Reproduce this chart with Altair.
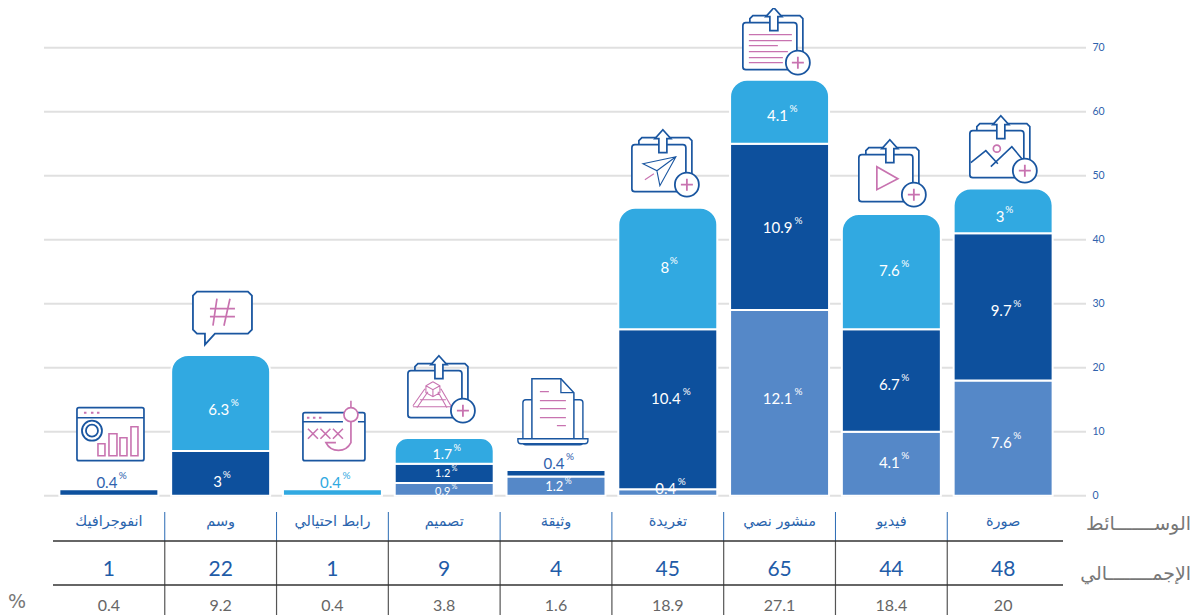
import altair as alt
import pandas as pd

# ---------- data ----------
cats = ["انفوجرافيك", "وسم", "رابط احتيالي", "تصميم", "وثيقة", "تغريدة", "منشور نصي", "فيديو", "صورة"]
seg_low = [0, 0, 0, 2, 3, 1, 29, 10, 18]
seg_mid = [1, 7, 0, 3, 1, 25, 26, 16, 23]
seg_top = [0, 15, 1, 4, 0, 19, 10, 18, 7]
label_low = ["", "", "", "0.9", "1.2", "0.4", "12.1", "4.1", "7.6"]
label_mid = ["0.4", "3", "", "1.2", "0.4", "10.4", "10.9", "6.7", "9.7"]
label_top = ["", "6.3", "0.4", "1.7", "", "8", "4.1", "7.6", "3"]
totals = [1, 22, 1, 9, 4, 45, 65, 44, 48]
shares = ["0.4", "9.2", "0.4", "3.8", "1.6", "18.9", "27.1", "18.4", "20"]
grid_ticks = [0, 10, 20, 30, 40, 50, 60, 70]

LIGHT, DARK, MID = "#31a9e1", "#0d509d", "#5588c8"
INK, PINK = "#1a56a0", "#c873b0"
NUM = "Lato"
AR = "DejaVu Sans"

# page -> plot helpers
PX, PY = 44, 8
def py(v): return v - PY
def px(v): return v - PX

xscale = alt.Scale(domain=cats, range=[9, 1015], paddingInner=0.1145, paddingOuter=0.057)
yscale = alt.Scale(domain=[0, 70], range=[487.7, 39.7])
AX = alt.Axis(orient="right", values=grid_ticks, grid=False, domain=False, ticks=False,
              labelPadding=6, labelFont=NUM, labelFontSize=10.5, labelColor="#2f62ad", title=None)
X = alt.X("name:N", scale=xscale, axis=None, sort=None)

# ---------- segments ----------
rows = []
for i, c in enumerate(cats):
    base = 0
    for seg, val, lab in (("low", seg_low[i], label_low[i]),
                          ("mid", seg_mid[i], label_mid[i]),
                          ("top", seg_top[i], label_top[i])):
        if val == 0:
            continue
        rows.append(dict(name=c, seg=seg, y0=base, y1=base + val, mid=base + val / 2,
                         label=lab, total=totals[i]))
        base += val
seg_df = pd.DataFrame(rows)
seg_df["is_top"] = seg_df["y1"] == seg_df["total"]

col_enc = alt.Color("seg:N", scale=alt.Scale(domain=["low", "mid", "top"], range=[MID, DARK, LIGHT]), legend=None)
Y = alt.Y("y1:Q", scale=yscale, axis=AX, title=None)

def bars(df, **kw):
    return alt.Chart(df).mark_bar(stroke="white", strokeWidth=2, **kw).encode(x=X, y=Y, y2="y0:Q", color=col_enc)

round_big = seg_df[seg_df["is_top"] & seg_df["name"].isin(["وسم", "تغريدة", "منشور نصي", "فيديو", "صورة"])]
round_small = seg_df[seg_df["is_top"] & (seg_df["name"] == "تصميم")]
plain = seg_df.drop(round_big.index).drop(round_small.index)

layers = []

# grid + right axis
grid = alt.Chart(pd.DataFrame({"t": grid_ticks})).mark_rule(color="#e0e0e0", strokeWidth=2).encode(
    y=alt.Y("t:Q", scale=yscale, axis=AX, title=None),
    x=alt.value(0), x2=alt.value(1042))
layers.append(grid)
layers += [bars(plain),
           bars(round_big, cornerRadiusTopLeft=17, cornerRadiusTopRight=17),
           bars(round_small, cornerRadiusTopLeft=13, cornerRadiusTopRight=13)]

# ---------- value labels ----------
lab = seg_df[seg_df["label"] != ""].copy()
NUDGE = {("منشور نصي", "top"): 4, ("منشور نصي", "mid"): 1, ("منشور نصي", "low"): -4,
         ("تغريدة", "mid"): -10, ("تغريدة", "top"): -1, ("تغريدة", "low"): -4,
         ("فيديو", "top"): -1, ("فيديو", "mid"): 4, ("فيديو", "low"): -1,
         ("صورة", "top"): 6, ("صورة", "mid"): 4, ("صورة", "low"): 5,
         ("وسم", "top"): 7, ("وسم", "mid"): 9,
         ("تصميم", "top"): 4, ("تصميم", "mid"): 1, ("تصميم", "low"): 3,
         ("وثيقة", "low"): 1}
def style(r):
    name, seg = r["name"], r["seg"]
    outside = name in ("انفوجرافيك", "رابط احتيالي") or (name == "وثيقة" and seg == "mid")
    color = "white"
    if outside:
        color = LIGHT if name == "رابط احتيالي" else "#2f62ad"
    size = 15
    if name == "تصميم":
        size = 14 if seg == "top" else 11
    if name == "وثيقة" and seg == "low":
        size = 13
    if outside:
        dy = -6 - (r["y1"] - r["mid"]) * 6.4
    else:
        dy = NUDGE[(name, seg)]
    return pd.Series(dict(color=color, size=size, dy=round(dy, 1), n=len(r["label"])))
lab = pd.concat([lab, lab.apply(style, axis=1)], axis=1)
OFF = {1: (-3, 6), 3: (-2, 14), 4: (-2, 19)}
for (color, size, dy, n), g in lab.groupby(["color", "size", "dy", "n"]):
    k = size / 15
    d0, d1 = OFF[n]
    ybase = alt.Y("mid:Q", scale=yscale, axis=AX, title=None)
    layers.append(alt.Chart(g).mark_text(font=NUM, fontSize=size, color=color, baseline="middle",
                                         dx=d0 * k, dy=dy).encode(x=X, y=ybase, text="label:N"))
    layers.append(alt.Chart(g).mark_text(font=NUM, fontSize=max(7, 10 * k), color=color, baseline="middle", text="%",
                                         dx=d1 * k, dy=dy - 7 * k).encode(x=X, y=ybase))

# ---------- table ----------
tbl = pd.DataFrame({"name": cats, "total": totals, "share": shares})
layers.append(alt.Chart(tbl).mark_text(font=AR, fontSize=14.5, color="#2a64ad", baseline="middle").encode(
    x=X, y=alt.value(py(522)), text="name:N"))
layers.append(alt.Chart(tbl).mark_text(font=NUM, fontSize=21, color="#1f5ca8", baseline="middle").encode(
    x=X, y=alt.value(py(570)), text="total:N"))
layers.append(alt.Chart(tbl).mark_text(font=NUM, fontSize=16, color="#666666", baseline="middle").encode(
    x=X, y=alt.value(py(606)), text="share:N"))

sep = tbl.iloc[:-1]
layers.append(alt.Chart(sep).mark_rule(color="#2a6ab3", strokeWidth=1, xOffset=55.9).encode(
    x=X, y=alt.value(py(512)), y2=alt.value(py(541))))
layers.append(alt.Chart(sep).mark_rule(color="#555555", strokeWidth=1.2, xOffset=55.9).encode(
    x=X, y=alt.value(py(541)), y2=alt.value(py(615))))
for yy in (541, 585):
    layers.append(alt.Chart(pd.DataFrame({"r": [yy]})).mark_rule(color="#333333", strokeWidth=1.3).encode(
        x=alt.value(px(53)), x2=alt.value(px(1063)), y=alt.value(py(yy))))

def side_text(t, xv, yv, size, align):
    return alt.Chart(pd.DataFrame({"t": [t]})).mark_text(font=AR, fontSize=size, color="#777777", align=align, baseline="middle").encode(
        x=alt.value(px(xv)), y=alt.value(py(yv)), text="t:N")
layers += [side_text("الوســـــــائط", 1191, 524, 19, "right"),
           side_text("الإجمــــــــالي", 1191, 574, 19, "right"),
           side_text("%", 17, 602, 19, "center")]

# ---------- icons (outline paths placed relative to each bar's top) ----------
def f(v): return f"{v:.1f}"
class Pen:
    def __init__(self, ox, oy): self.ox, self.oy = ox, oy
    def pt(self, x, y): return f"{f(x - self.ox)} {f(y - self.oy)}"
    def poly(self, pts, close=False):
        s = "M" + " L".join(self.pt(*p) for p in pts)
        return s + (" Z" if close else "")
    def lines(self, segs): return " ".join(self.poly(s) for s in segs)
    def circ(self, cx, cy, r):
        return f"M{self.pt(cx - r, cy)} A{r} {r} 0 1 1 {self.pt(cx + r, cy)} A{r} {r} 0 1 1 {self.pt(cx - r, cy)} Z"
    def rrect(self, x, y, w, h, r=3):
        if r == 0:
            return self.poly([(x, y), (x + w, y), (x + w, y + h), (x, y + h)], True)
        return (f"M{self.pt(x + r, y)} L{self.pt(x + w - r, y)} A{r} {r} 0 0 1 {self.pt(x + w, y + r)} "
                f"L{self.pt(x + w, y + h - r)} A{r} {r} 0 0 1 {self.pt(x + w - r, y + h)} "
                f"L{self.pt(x + r, y + h)} A{r} {r} 0 0 1 {self.pt(x, y + h - r)} "
                f"L{self.pt(x, y + r)} A{r} {r} 0 0 1 {self.pt(x + r, y)} Z")

T = "transparent"
def upload(p, x, y, details):
    cx = x + 31
    out = [(p.poly([(x + 7, y), (x + 7, y - 4), (x + 10, y - 7), (x + 57, y - 7), (x + 60, y - 4), (x + 60, y + 32)]), T, INK, 1.7),
           (p.rrect(x, y, 54, 47), "white", INK, 1.7)]
    out += details
    out += [(p.poly([(cx, y - 15), (cx + 8, y - 6), (cx + 4, y - 6), (cx + 4, y + 8), (cx - 4, y + 8), (cx - 4, y - 6), (cx - 8, y - 6)], True), "white", INK, 1.7),
            (p.circ(x + 55, y + 40, 12), "white", INK, 1.8),
            (p.lines([[(x + 49, y + 40), (x + 61, y + 40)], [(x + 55, y + 34), (x + 55, y + 46)]]), T, PINK, 1.8)]
    return out

def anchor(name):
    i = cats.index(name)
    return Pen(53 + 111.8 * (i + 0.5), 495 - 6.4 * totals[i])

icons = {}
# text post
p = anchor("منشور نصي"); x, y = 743, 22
icons["منشور نصي"] = upload(p, x, y, [(p.lines([[(x + 6, y + a), (x + b, y + a)] for a, b in
                                           ((12, 49), (18, 49), (23, 35), (29, 45), (35, 40), (40, 40))]), T, PINK, 1.3)])
# video
p = anchor("فيديو"); x, y = 859, 154
icons["فيديو"] = upload(p, x, y, [(p.poly([(877, 166), (877, 189), (898, 178)], True), T, PINK, 1.7)])
# image
p = anchor("صورة"); x, y = 970, 130
icons["صورة"] = upload(p, x, y, [(p.circ(997, 148, 3.5), T, PINK, 1.7),
                                 (p.lines([[(971, 162), (986, 150), (998, 163)], [(991, 166), (1012, 146), (1022, 158)]]), T, INK, 1.6)])
# tweet
p = anchor("تغريدة"); x, y = 632, 144
icons["تغريدة"] = upload(p, x, y, [(p.poly([(x + 11, y + 19), (x + 44, y + 12), (x + 28, y + 41), (x + 25, y + 26)], True) + " " +
                                    p.poly([(x + 25, y + 26), (x + 44, y + 12)]), T, INK, 1.1),
                                   (p.poly([(x + 13, y + 35), (x + 22, y + 29)]), T, PINK, 1.1)])
# design
p = anchor("تصميم"); x, y = 408, 370
icons["تصميم"] = upload(p, x, y, [(p.lines([[(x + 5, y + 35), (x + 17, y + 18)], [(x + 9, y + 37), (x + 20, y + 21)],
                                             [(x + 43, y + 35), (x + 33, y + 18)], [(x + 39, y + 37), (x + 30, y + 21)],
                                             [(x + 12, y + 29), (x + 38, y + 29)], [(x + 5, y + 36), (x + 43, y + 36)],
                                             [(x + 25, y + 11), (x + 32, y + 15), (x + 32, y + 22), (x + 25, y + 26), (x + 18, y + 22), (x + 18, y + 15), (x + 25, y + 11)],
                                             [(x + 18, y + 15), (x + 25, y + 19), (x + 32, y + 15)], [(x + 25, y + 19), (x + 25, y + 26)]]), T, PINK, 1.1)])
# hashtag
p = anchor("وسم")
icons["وسم"] = [(p.poly([(197, 291), (248, 291), (252, 295), (252, 329), (248, 333), (215, 333), (205, 344), (205, 333),
                         (197, 333), (193, 329), (193, 295)], True), "white", INK, 1.8),
                (p.lines([[(217, 298), (213, 325)], [(230, 298), (224, 325)], [(210, 308), (235, 308)], [(210, 316), (235, 316)]]), T, PINK, 1.7)]
# infographic
p = anchor("انفوجرافيك")
icons["انفوجرافيك"] = [(p.rrect(77, 407, 67, 53, 2), "white", INK, 1.7),
                       (p.poly([(77, 417), (144, 417)]), T, INK, 1.5),
                       (p.lines([[(84, 412), (86.5, 412)], [(91, 412), (93.5, 412)], [(97, 412), (99.5, 412)]]), T, PINK, 2),
                       (p.circ(92, 430, 10), T, INK, 1.8), (p.circ(92, 430, 6), T, INK, 1.8),
                       (p.rrect(98, 443, 7, 12, 0) + " " + p.rrect(109, 433, 8, 22, 0) + " " + p.rrect(120, 437, 7, 18, 0) + " " + p.rrect(131, 426, 7, 29, 0), T, PINK, 1.6)]
# phishing link
p = anchor("رابط احتيالي")
icons["رابط احتيالي"] = [(p.rrect(303, 412, 62, 48, 2), "white", INK, 1.7),
                         (p.poly([(303, 421), (343, 421)]) + " " + p.poly([(358, 421), (365, 421)]), T, INK, 1.5),
                         (p.lines([[(307, 417), (309.5, 417)], [(313, 417), (315.5, 417)], [(319, 417), (321.5, 417)]]), T, PINK, 2),
                         (p.lines([[(308 + d, 428), (318 + d, 438)] for d in (0, 12.5, 25)] + [[(318 + d, 428), (308 + d, 438)] for d in (0, 12.5, 25)]), T, PINK, 1.6),
                         (p.poly([(351, 400), (351, 407)]), T, PINK, 1.6),
                         (f"M{p.pt(351, 421)} L{p.pt(351, 442)} A14 14 0 0 1 {p.pt(326, 442)} L{p.pt(336, 442)}", T, PINK, 1.7),
                         (p.circ(351, 414, 7), "white", PINK, 1.7)]
# document
p = anchor("وثيقة")
icons["وثيقة"] = [(p.rrect(523, 399, 60, 45, 3), "white", INK, 1.4),
                  (p.poly([(532, 438), (532, 378), (561, 378), (574, 392), (574, 438)], True), "white", INK, 1.5),
                  (p.poly([(561, 378), (561, 392), (574, 392)]), T, INK, 1.3),
                  (f"M{p.pt(518, 438)} L{p.pt(588, 438)} L{p.pt(588, 440)} A3 3 0 0 1 {p.pt(585, 443)} L{p.pt(521, 443)} A3 3 0 0 1 {p.pt(518, 440)} Z", "white", INK, 1.4),
                  (p.lines([[(540, 391), (549, 391)], [(540, 400), (566, 400)], [(540, 408), (566, 408)], [(540, 417), (566, 417)], [(557, 425), (566, 425)]]), T, PINK, 1.3)]

for name, parts in icons.items():
    d = tbl[tbl["name"] == name]
    for path, fill, stroke, sw in parts:
        layers.append(alt.Chart(d).mark_point(shape=path, size=4, filled=True, fill=fill, stroke=stroke, strokeWidth=sw,
                                              opacity=1, fillOpacity=1, strokeOpacity=1).encode(
            x=X, y=alt.Y("total:Q", scale=yscale, axis=AX, title=None)))

chart = alt.layer(*layers).properties(
    width=1042, height=607,
    padding={"left": 36, "right": 106, "top": 0, "bottom": 0},
    autosize=alt.AutoSizeParams(type="none"),
).configure_view(stroke=None)

chart.save("out.html", embed_options={"renderer": "svg", "actions": False})
